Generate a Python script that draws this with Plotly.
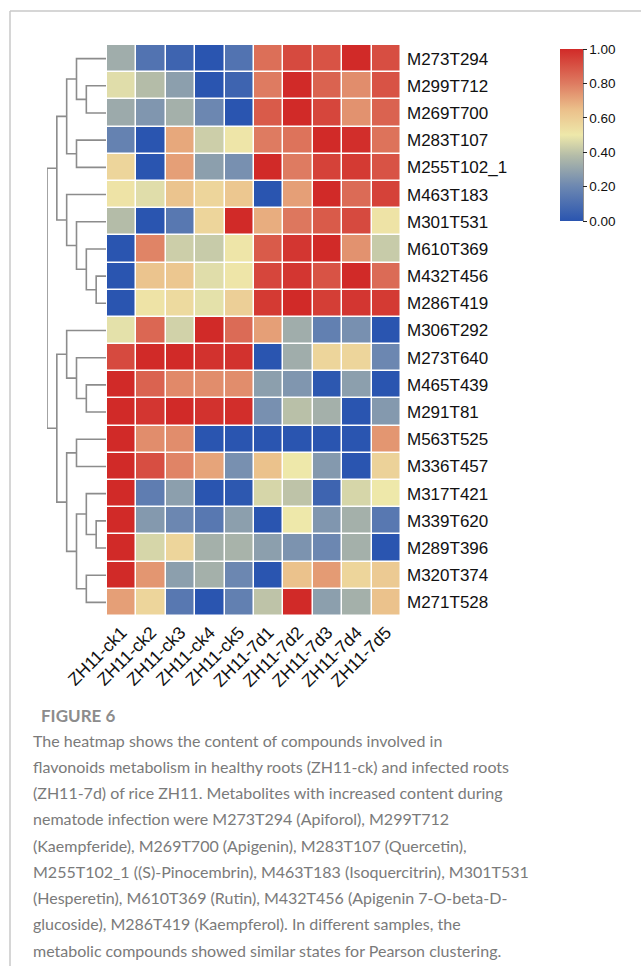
import plotly.graph_objects as go

# Samples (columns) and metabolites (rows, in dendrogram order)
samples = ["ZH11-ck1", "ZH11-ck2", "ZH11-ck3", "ZH11-ck4", "ZH11-ck5",
           "ZH11-7d1", "ZH11-7d2", "ZH11-7d3", "ZH11-7d4", "ZH11-7d5"]
compounds = ["M273T294", "M299T712", "M269T700", "M283T107", "M255T102_1",
             "M463T183", "M301T531", "M610T369", "M432T456", "M286T419",
             "M306T292", "M273T640", "M465T439", "M291T81", "M563T525",
             "M336T457", "M317T421", "M339T620", "M289T396", "M320T374",
             "M271T528"]

# Scaled relative content (0-1) per metabolite row
values = [
    [0.33, 0.12, 0.06, 0.00, 0.12, 0.83, 0.92, 0.90, 1.00, 0.91],
    [0.47, 0.38, 0.28, 0.00, 0.06, 0.80, 1.00, 0.86, 0.76, 0.90],
    [0.32, 0.25, 0.34, 0.20, 0.00, 0.88, 1.00, 0.93, 0.75, 0.86],
    [0.18, 0.00, 0.70, 0.43, 0.51, 0.80, 0.82, 1.00, 0.99, 0.82],
    [0.57, 0.00, 0.72, 0.28, 0.23, 1.00, 0.80, 0.94, 0.96, 0.90],
    [0.52, 0.47, 0.63, 0.57, 0.62, 0.00, 0.72, 1.00, 0.84, 0.94],
    [0.38, 0.00, 0.14, 0.57, 1.00, 0.69, 0.81, 0.88, 0.92, 0.52],
    [0.00, 0.78, 0.43, 0.42, 0.51, 0.88, 0.97, 1.00, 0.75, 0.42],
    [0.00, 0.63, 0.62, 0.47, 0.51, 0.93, 0.97, 0.90, 1.00, 0.84],
    [0.00, 0.52, 0.55, 0.48, 0.59, 0.96, 1.00, 0.95, 0.97, 0.96],
    [0.48, 0.85, 0.44, 1.00, 0.84, 0.72, 0.33, 0.17, 0.23, 0.00],
    [0.92, 1.00, 1.00, 0.98, 0.98, 0.00, 0.33, 0.57, 0.57, 0.20],
    [1.00, 0.86, 0.77, 0.76, 0.76, 0.28, 0.25, 0.01, 0.28, 0.00],
    [1.00, 0.97, 1.00, 0.98, 0.99, 0.23, 0.39, 0.34, 0.00, 0.26],
    [1.00, 0.76, 0.76, 0.00, 0.00, 0.00, 0.00, 0.00, 0.00, 0.74],
    [1.00, 0.91, 0.78, 0.71, 0.23, 0.64, 0.50, 0.26, 0.00, 0.58],
    [1.00, 0.16, 0.28, 0.00, 0.01, 0.45, 0.40, 0.06, 0.45, 0.50],
    [1.00, 0.26, 0.20, 0.14, 0.28, 0.00, 0.50, 0.25, 0.34, 0.14],
    [1.00, 0.45, 0.57, 0.34, 0.35, 0.28, 0.24, 0.20, 0.34, 0.00],
    [1.00, 0.74, 0.28, 0.34, 0.20, 0.00, 0.64, 0.73, 0.57, 0.61],
    [0.72, 0.57, 0.14, 0.00, 0.17, 0.40, 1.00, 0.28, 0.34, 0.64],
]

# Row clustering: (left node, right node, merge height); leaves are 0..20,
# each merge creates the next node id starting at 21
merges = [
    (1, 2, 2), (0, 21, 3), (3, 4, 3), (22, 23, 4),
    (8, 9, 1), (7, 25, 2), (6, 26, 3), (5, 27, 4), (24, 28, 5),
    (12, 13, 2), (11, 30, 3), (10, 31, 4),
    (14, 15, 3), (17, 18, 1), (16, 34, 2), (19, 20, 2), (35, 36, 3),
    (33, 37, 4), (32, 38, 5), (29, 39, 6),
]

colorbar_ticks = [0.0, 0.2, 0.4, 0.6, 0.8, 1.0]

caption_title = "FIGURE 6"
caption_lines = [
    "The heatmap shows the content of compounds involved in",
    "flavonoids metabolism in healthy roots (ZH11-ck) and infected roots",
    "(ZH11-7d) of rice ZH11. Metabolites with increased content during",
    "nematode infection were M273T294 (Apiforol), M299T712",
    "(Kaempferide), M269T700 (Apigenin), M283T107 (Quercetin),",
    "M255T102_1 ((S)-Pinocembrin), M463T183 (Isoquercitrin), M301T531",
    "(Hesperetin), M610T369 (Rutin), M432T456 (Apigenin 7-O-beta-D-",
    "glucoside), M286T419 (Kaempferol). In different samples, the",
    "metabolic compounds showed similar states for Pearson clustering.",
]

W, H = 641, 966


def px_x(p):
    return p / W


def px_y(p):
    return 1 - p / H


colorscale = [
    [0.0, "#2a55b0"],
    [0.2, "#6c87b1"],
    [0.38, "#b4bca8"],
    [0.5, "#eee8aa"],
    [0.65, "#ebbf8a"],
    [0.8, "#de7b61"],
    [1.0, "#d12a28"],
]

fig = go.Figure()

fig.add_trace(go.Heatmap(
    z=values,
    x=list(range(len(samples))),
    y=list(range(len(compounds))),
    zmin=0, zmax=1,
    colorscale=colorscale,
    xgap=1.5, ygap=1.5,
    hoverinfo="skip",
    colorbar=dict(
        x=px_x(560), xanchor="left", xpad=0,
        y=px_y(49), yanchor="top", ypad=0,
        len=(221 - 49) / H, lenmode="fraction",
        thickness=23, thicknessmode="pixels",
        outlinewidth=0,
        tickvals=colorbar_ticks,
        ticktext=[f"{t:.2f}" for t in colorbar_ticks],
        ticks="outside", ticklen=4, tickwidth=1, tickcolor="#222",
        tickfont=dict(family="Liberation Sans, Arial", size=13.5, color="#111"),
    ),
))

# Dendrogram coordinates built from the merge list
pos = {i: (float(i), 0.0) for i in range(len(compounds))}
seg_x, seg_y = [], []
for k, (a, b, h) in enumerate(merges):
    ya, ha = pos[a]
    yb, hb = pos[b]
    seg_x += [ha, h, h, hb, None]
    seg_y += [ya, ya, yb, yb, None]
    pos[len(compounds) + k] = ((ya + yb) / 2, h)

fig.add_trace(go.Scatter(
    x=seg_x, y=seg_y, xaxis="x2", yaxis="y",
    mode="lines", line=dict(color="#8c8c8c", width=1.6),
    hoverinfo="skip", showlegend=False,
))

label_font = dict(family="Liberation Sans, Arial", size=17, color="#111")
sample_font = dict(family="Liberation Sans, Arial", size=17.5, color="#111")

fig.update_layout(
    template="none",
    width=W, height=H,
    margin=dict(l=0, r=0, t=0, b=0, pad=0, autoexpand=False),
    paper_bgcolor="white", plot_bgcolor="white",
    showlegend=False,
    xaxis=dict(
        domain=[px_x(107), px_x(401)],
        range=[-0.5, len(samples) - 0.5],
        tickvals=list(range(len(samples))), ticktext=samples,
        tickangle=-45, tickfont=sample_font, ticklabelstandoff=2,
        showgrid=False, zeroline=False, showline=False, ticks="",
        anchor="y", automargin=False,
    ),
    yaxis=dict(
        domain=[px_y(616), px_y(45)],
        range=[len(compounds) - 0.5, -0.5],
        tickvals=list(range(len(compounds))), ticktext=compounds,
        side="right", tickfont=label_font, ticklabelstandoff=5,
        showgrid=False, zeroline=False, showline=False, ticks="",
        anchor="x", automargin=False,
    ),
    xaxis2=dict(
        domain=[px_x(47), px_x(106)],
        range=[6, 0],
        visible=False, anchor="y", automargin=False,
    ),
)

# Card border (top and left edges)
fig.add_shape(type="line", xref="paper", yref="paper",
              x0=px_x(10), x1=1.0, y0=px_y(11), y1=px_y(11),
              line=dict(color="#c8c8c8", width=1.5))
fig.add_shape(type="line", xref="paper", yref="paper",
              x0=px_x(10), x1=px_x(10), y0=px_y(11), y1=0,
              line=dict(color="#c8c8c8", width=1.5))

# Colorbar axis line on its right edge
fig.add_shape(type="line", xref="paper", yref="paper",
              x0=px_x(583), x1=px_x(583), y0=px_y(49), y1=px_y(221),
              line=dict(color="#222", width=1))

fig.add_annotation(
    x=px_x(39), y=px_y(715), xref="paper", yref="paper",
    xanchor="left", yanchor="middle", showarrow=False,
    text=f"<b>{caption_title}</b>",
    font=dict(family="Lato, Open Sans", size=17, color="#8c8c8c"),
)

for i, line in enumerate(caption_lines):
    fig.add_annotation(
        x=px_x(31), y=px_y(740 + i * 26.25), xref="paper", yref="paper",
        xanchor="left", yanchor="middle", showarrow=False,
        text=line,
        font=dict(family="Lato, Open Sans", size=16, color="#7a7a7a"),
    )

fig.write_html("out.html")
